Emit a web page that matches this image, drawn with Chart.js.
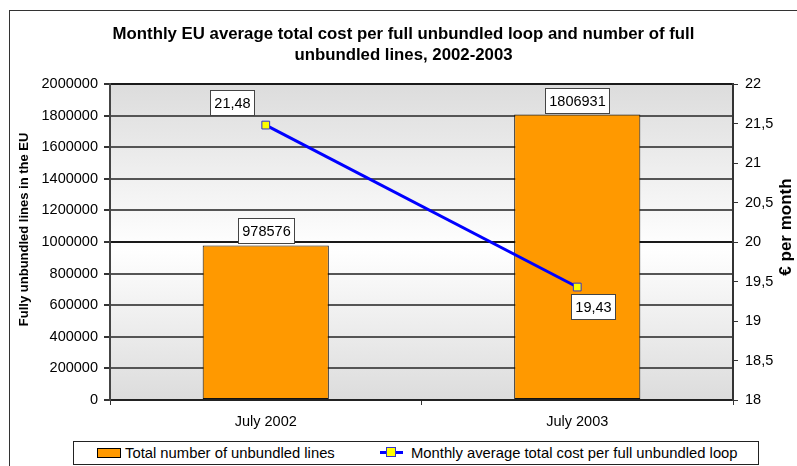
<!DOCTYPE html>
<html>
<head>
<meta charset="utf-8">
<script src="https://cdn.jsdelivr.net/npm/chart.js@4/dist/chart.umd.min.js"></script>
<style>
  body { margin: 0; background: #fff; }
  #wrap { position: relative; width: 797px; height: 466px; overflow: hidden; font-family: "Liberation Sans", Arial, sans-serif; }
  #frame { position: absolute; left: 9px; top: 10px; width: 800px; height: 470px; border: 1px solid #333; }
  canvas { position: absolute; left: 0; top: 0; }
  #legend { position: absolute; left: 73px; top: 441px; width: 684px; height: 22px; border: 1px solid #222; background: #fff; font-size: 14.8px; color: #000; }
  #legend .item { position: absolute; top: 3px; height: 16px; line-height: 16px; white-space: nowrap; }
  #legend .swatch { position: absolute; top: 6px; width: 22px; height: 8px; background: #ff9900; border: 1px solid #000; }
  #legend .line { position: absolute; top: 9px; width: 23px; height: 3px; background: #0000ff; }
  #legend .marker { position: absolute; top: 5px; width: 8px; height: 8px; background: #ffff00; border: 1px solid #3333cc; }
</style>
</head>
<body>
<div id="wrap">
  <div id="frame"></div>
  <canvas id="chart" width="797" height="466"></canvas>
  <div id="legend"></div>
</div>
<script>
const categories = ['July 2002', 'July 2003']
const unbundledLines = [978576, 1806931]
const monthlyCost = [21.48, 19.43]
const linesLabel = 'Total number of unbundled lines'
const costLabel = 'Monthly average total cost per full unbundled loop'
const titleLines = [
  'Monthly EU average total cost per full unbundled loop and number of full',
  'unbundled lines, 2002-2003'
]

const FONT = '"Liberation Sans", Arial, sans-serif'

// grey -> white -> grey fill behind the plot
const plotBackground = {
  id: 'plotBackground',
  beforeDraw(chart) {
    const { ctx, chartArea: a } = chart
    const g = ctx.createLinearGradient(0, a.top, 0, a.bottom)
    g.addColorStop(0, '#dcdcdc')
    g.addColorStop(0.52, '#ffffff')
    g.addColorStop(1, '#dcdcdc')
    ctx.save()
    ctx.fillStyle = g
    ctx.fillRect(a.left, a.top, a.right - a.left, a.bottom - a.top)
    ctx.restore()
  }
}

// right axis title reads bottom-to-top like the left one
const rightTitle = {
  id: 'rightTitle',
  afterDraw(chart, args, opts) {
    const scale = chart.scales.yCost
    const { ctx } = chart
    ctx.save()
    ctx.translate(scale.right - opts.inset, (scale.top + scale.bottom) / 2 - opts.lift)
    ctx.rotate(-Math.PI / 2)
    ctx.font = opts.font
    ctx.fillStyle = '#000'
    ctx.textAlign = 'center'
    ctx.textBaseline = 'middle'
    ctx.fillText(opts.text, 0, 0)
    ctx.restore()
  }
}

// boxed value labels next to each bar / point
const boxedLabels = {
  id: 'boxedLabels',
  afterDatasetsDraw(chart) {
    const { ctx } = chart
    ctx.save()
    ctx.font = '14.5px ' + FONT
    ctx.textBaseline = 'middle'
    ctx.textAlign = 'center'
    chart.data.datasets.forEach((ds, i) => {
      const meta = chart.getDatasetMeta(i)
      meta.data.forEach((el, j) => {
        const text = ds.type === 'line'
          ? ds.data[j].toFixed(2).replace('.', ',')
          : String(ds.data[j])
        const w = Math.round(ctx.measureText(text).width + 8)
        const h = 25
        let x, y
        if (ds.type === 'line') {
          // box top-left relative to the point
          const off = ds.labelOffsets[j]
          x = el.x + off[0]
          y = el.y + off[1]
        } else {
          x = el.x - w / 2
          y = el.y - 2 - h
        }
        x = Math.round(x)
        y = Math.round(y)
        ctx.fillStyle = '#fff'
        ctx.fillRect(x, y, w, h)
        ctx.strokeStyle = '#444'
        ctx.lineWidth = 1
        ctx.strokeRect(x + 0.5, y + 0.5, w, h)
        ctx.fillStyle = '#000'
        ctx.fillText(text, x + w / 2 + 0.5, y + h / 2 + 1)
      })
    })
    ctx.restore()
  }
}

const chart = new Chart(document.getElementById('chart'), {
  data: {
    labels: categories,
    datasets: [
      {
        type: 'line',
        label: costLabel,
        data: monthlyCost,
        yAxisID: 'yCost',
        borderColor: '#0000ff',
        borderWidth: 3,
        pointStyle: 'rect',
        pointRadius: 5.5,
        pointBackgroundColor: '#ffff00',
        pointBorderColor: '#3333cc',
        pointBorderWidth: 1,
        labelOffsets: [[-56, -35], [-6, 7]],
        order: 0
      },
      {
        type: 'bar',
        label: linesLabel,
        data: unbundledLines,
        yAxisID: 'yLines',
        backgroundColor: '#ff9900',
        borderColor: '#111',
        borderWidth: 1,
        borderSkipped: false,
        categoryPercentage: 1,
        barPercentage: 0.405,
        order: 1
      }
    ]
  },
  options: {
    responsive: false,
    animation: false,
    layout: { padding: { left: 10, right: 0, top: 0, bottom: 0 } },
    plugins: {
      legend: { display: false },
      tooltip: { enabled: false },
      title: {
        display: true,
        text: titleLines,
        color: '#000',
        font: { family: FONT, size: 16.8, weight: 'bold', lineHeight: 1.25 },
        padding: { top: 24, bottom: 18 }
      },
      rightTitle: {
        text: '€ per month',
        font: 'bold 17px ' + FONT,
        inset: 11,
        lift: 15
      }
    },
    scales: {
      x: {
        offset: true,
        grid: { offset: true, drawOnChartArea: false, tickLength: 5, color: '#333' },
        border: { color: '#222', width: 2 },
        ticks: { color: '#000', padding: 8, font: { family: FONT, size: 14.5 } },
        afterFit(scale) { scale.height = 66 }
      },
      yLines: {
        position: 'left',
        min: 0,
        max: 2000000,
        ticks: {
          stepSize: 200000,
          color: '#000',
          padding: 6,
          font: { family: FONT, size: 14.5 },
          callback: v => String(v)
        },
        grid: {
          tickLength: 6,
          lineWidth: 2,
          // middle and top lines are a touch darker
          color: c => (c.index === 5 || c.index === 10) ? '#1a1a1a' : '#555',
          tickColor: '#333'
        },
        border: { color: '#444', width: 2 },
        title: {
          display: true,
          text: '       Fully unbundled lines in the EU',
          color: '#000',
          font: { family: FONT, size: 13, weight: 'bold' },
          padding: { top: 7, bottom: 0 }
        },
        afterFit(scale) { scale.width = 100 }
      },
      yCost: {
        position: 'right',
        min: 18,
        max: 22,
        ticks: {
          stepSize: 0.5,
          color: '#000',
          padding: 7,
          font: { family: FONT, size: 14.5 },
          callback: v => String(v).replace('.', ',')
        },
        grid: { drawOnChartArea: false, tickLength: 5, tickColor: '#333' },
        border: { color: '#333', width: 2 },
        afterFit(scale) { scale.width = 64 }
      }
    }
  },
  plugins: [plotBackground, boxedLabels, rightTitle]
})

// legend drawn as html below the plot
const legend = document.getElementById('legend')
legend.innerHTML = `
  <span class="swatch" style="left:23px"></span>
  <span class="item" style="left:51px">${linesLabel}</span>
  <span class="line" style="left:306px"></span>
  <span class="marker" style="left:312px"></span>
  <span class="item" style="left:337px">${costLabel}</span>
`
</script>
</body>
</html>
